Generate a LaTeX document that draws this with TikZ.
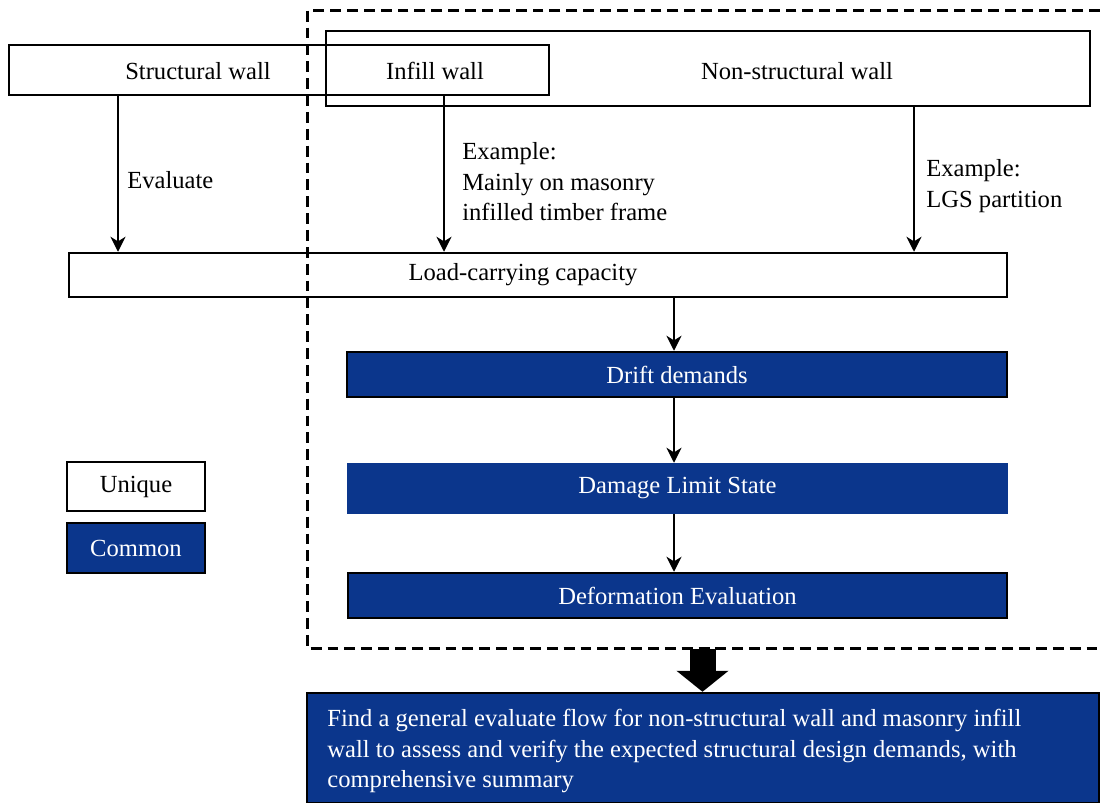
\documentclass[tikz,border=0pt]{standalone}
\usepackage{fontspec}
\setmainfont{Liberation Serif}
\usepackage{tikz}
\usetikzlibrary{arrows.meta,positioning,calc}
\definecolor{azul}{RGB}{11,54,140}

\begin{document}
\begin{tikzpicture}[x=0.02cm, y=-0.02cm,
    font=\fontsize{14}{17.4}\selectfont,
    lw/.style={line width=1.4pt},
    wallbox/.style={draw, lw, inner sep=0pt},
    unique/.style={draw, lw, fill=white, inner sep=0pt},
    common/.style={draw, lw, fill=azul, text=white, inner sep=0pt},
    flow/.style={lw, -{Stealth[length=8.5pt, width=8.5pt, inset=2.6pt]}},
    lbl/.style={anchor=west, align=left, inner sep=0pt}]
    \useasboundingbox (0,0) rectangle (1100,803);

    % Cajas de los muros
    \node[wallbox, minimum width=10.8cm, minimum height=1.0cm] (sw) at (279,70) {};
    \node[wallbox, minimum width=15.28cm, minimum height=1.5cm] (nsw) at (708,68.5) {};
    \node (swt) at (198,71) {Structural wall};
    \node (ifw) at (435,71) {Infill wall};
    \node (nswt) at (797,71) {Non-structural wall};

    % Cajas del flujo
    \node[unique, minimum width=18.76cm, minimum height=0.88cm] (load) at (538,275) {};
    \node (loadt) at (523,275) {Load-carrying capacity};
    \node[common, minimum width=13.2cm, minimum height=0.9cm] (drift) at (677,374.5) {Drift demands};
    \node[common, draw=azul, minimum width=13.18cm, minimum height=0.98cm] (dls) at (677.5,488.5) {Damage Limit State};
    \node[common, minimum width=13.18cm, minimum height=0.9cm] (deform) at (677.5,595.5) {Deformation Evaluation};

    % Leyenda
    \node[unique, minimum width=2.76cm, minimum height=0.98cm] (uniq) at (136,486.5) {Unique};
    \node[common, minimum width=2.76cm, minimum height=1.0cm] (comm) at (136,548) {Common};

    % Zona comun (discontinua)
    \draw[lw, dash pattern=on 6.2pt off 3.4pt] (1100,10.5) -- (307.5,10.5) -- (307.5,648.5) -- (1100,648.5);

    % Flechas desde los muros
    \coordinate (xs) at (118,0);
    \coordinate (xi) at (444,0);
    \coordinate (xn) at (914,0);
    \coordinate (xc) at (674,0);
    \draw[flow] (sw.south -| xs) -- (load.north -| xs);
    \draw[flow] (sw.south -| xi) -- (load.north -| xi);
    \draw[flow] (nsw.south -| xn) -- (load.north -| xn);
    \node[lbl] (evl) at (127,180) {Evaluate};
    \node[lbl] (exi) at (462,182) {Example:\\Mainly on masonry\\infilled timber frame};
    \node[lbl] (exn) at (926,186) {Example:\\LGS partition};

    % Flechas del flujo
    \draw[flow] (load.south -| xc) -- (drift.north -| xc);
    \draw[flow] (drift.south -| xc) -- (dls.north -| xc);
    \draw[flow] (dls.south -| xc) -- (deform.north -| xc);

    % Resumen
    \node[common, minimum width=15.84cm, minimum height=2.2cm] (sum) at (703,748) {};
    \node[lbl, text=white] (sumt) at (327,751) {Find a general evaluate flow for non-structural wall and masonry infill\\wall to assess and verify the expected structural design demands, with\\comprehensive summary};
    \coordinate (fb) at (702.5,649);
    \draw[line width=0.52cm, -{Triangle[length=0.42cm, width=1.02cm]}] (fb) -- (sum.north -| fb);
\end{tikzpicture}
\end{document}
